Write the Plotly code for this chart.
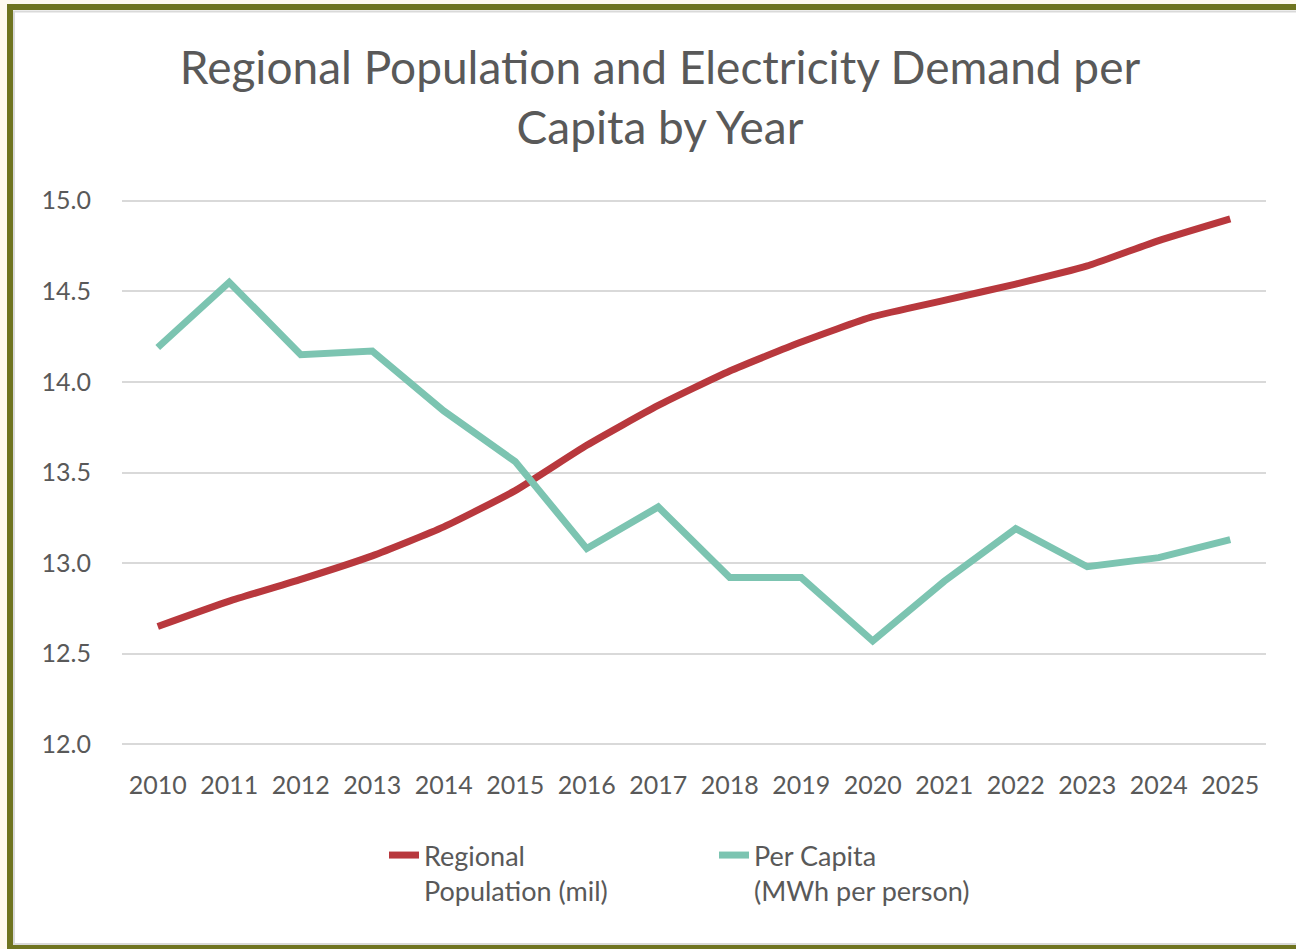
import plotly.graph_objects as go

years = [str(y) for y in range(2010, 2026)]
population = [12.65, 12.79, 12.91, 13.04, 13.20, 13.40, 13.65, 13.87, 14.06, 14.22,
              14.36, 14.45, 14.54, 14.64, 14.78, 14.90]
per_capita = [14.19, 14.55, 14.15, 14.17, 13.84, 13.56, 13.08, 13.31, 12.92, 12.92,
              12.57, 12.90, 13.19, 12.98, 13.03, 13.13]
y_ticks = [12.0, 12.5, 13.0, 13.5, 14.0, 14.5, 15.0]
y_tick_text = ["12.0", "12.5", "13.0", "13.5", "14.0", "14.5", "15.0"]

W, H = 1296, 949
L, R, T, B = 122, 1266, 198, 747
pw, ph = R - L, B - T

def px(x):
    return (x - L) / pw

def py(y):
    return (B - y) / ph

RED = "#b8383d"
TEAL = "#7cc4b1"
GRAY = "#595959"
FONT = "Lato"

fig = go.Figure()
fig.add_trace(go.Scatter(x=years, y=population, mode="lines",
                         name="Regional<br>Population (mil)",
                         line=dict(color=RED, width=7, shape="spline", smoothing=0.5)))
fig.add_trace(go.Scatter(x=years, y=per_capita, mode="lines",
                         name="Per Capita<br>(MWh per person)",
                         line=dict(color=TEAL, width=7)))

shapes = [
    dict(type="rect", xref="paper", yref="paper", layer="below",
         x0=px(10), x1=px(1320), y0=py(947), y1=py(7),
         line=dict(color="#6f7420", width=6), fillcolor="white"),
    dict(type="rect", xref="paper", yref="paper", layer="below",
         x0=px(14), x1=px(1320), y0=py(944), y1=py(11.5),
         line=dict(color="#d9d9d9", width=2), fillcolor="rgba(0,0,0,0)"),
]

fig.update_layout(
    width=W, height=H,
    margin=dict(l=L, r=W - R, t=T, b=H - B, pad=0),
    paper_bgcolor="#fffaf0",
    plot_bgcolor="rgba(0,0,0,0)",
    shapes=shapes,
    title=dict(text="Regional Population and Electricity Demand per<br>Capita by Year",
               x=660 / W, xanchor="center", y=1 - 84 / H, yanchor="top",
               font=dict(family=FONT, size=46, color=GRAY)),
    font=dict(family=FONT, color=GRAY),
    showlegend=True,
    legend=dict(orientation="h", x=px(384), xanchor="left", y=-(831 - B) / ph, yanchor="top",
                font=dict(family=FONT, size=27, color=GRAY), valign="top",
                bgcolor="rgba(0,0,0,0)", entrywidth=285, entrywidthmode="pixels",
                itemwidth=30, tracegroupgap=0),
    xaxis=dict(type="category", range=[-0.5, 15.5], showgrid=False, zeroline=False,
               showline=False, ticks="", tickfont=dict(family=FONT, size=25, color=GRAY),
               ticklabelstandoff=21),
    yaxis=dict(range=[11.985, 15.015], tickvals=y_ticks, ticktext=y_tick_text,
               showgrid=True, gridcolor="#d9d9d9", gridwidth=2, zeroline=False,
               showline=False, ticks="", tickfont=dict(family=FONT, size=25, color=GRAY),
               ticklabelstandoff=30),
)

fig.write_html("out.html")
